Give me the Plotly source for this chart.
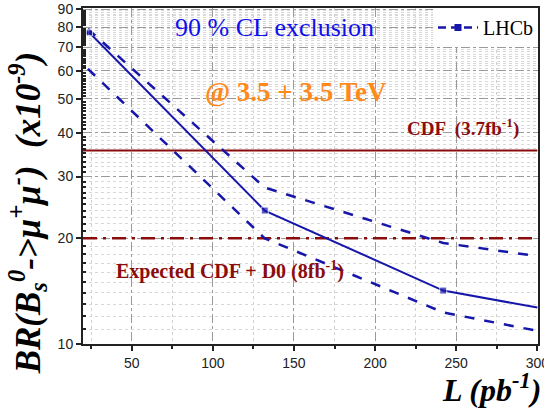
import plotly.graph_objects as go
import math

# ---- data ----
lumi = [21.5, 24, 132, 242, 300]            # pb^-1
br_lhcb = [77, 77, 24.0, 14.2, 12.7]         # x1e-9
lumi_band = [23, 132, 242, 300]
br_upper = [79, 27.9, 19.4, 17.8]
br_lower = [60.8, 20.0, 12.3, 10.9]
cdf_limit = 35.6
cdf_d0_expected = 20.0
x_range = [20, 300]
y_range = [10, 90]
x_ticks = [50, 100, 150, 200, 250, 300]
x_minor = [25, 75, 125, 175, 225, 275]
y_ticks = [10, 20, 30, 40, 50, 60, 70, 80, 90]
y_minor = [v for v in range(11, 90) if v % 10 != 0]

BLUE = "#1616aa"
RED = "#8b0c0c"

fig = go.Figure()

fig.add_trace(go.Scatter(x=x_range, y=[cdf_limit, cdf_limit], mode="lines",
                         line=dict(color=RED, width=2), showlegend=False, hoverinfo="skip"))
fig.add_trace(go.Scatter(x=x_range, y=[cdf_d0_expected, cdf_d0_expected], mode="lines",
                         line=dict(color=RED, width=2.5, dash="14px,6px,3px,6px"),
                         showlegend=False, hoverinfo="skip"))
fig.add_trace(go.Scatter(x=lumi_band, y=br_upper, mode="lines",
                         line=dict(color=BLUE, width=2.5, dash="10px,10px"), showlegend=False))
fig.add_trace(go.Scatter(x=lumi_band, y=br_lower, mode="lines",
                         line=dict(color=BLUE, width=2.5, dash="10px,10px"), showlegend=False))
fig.add_trace(go.Scatter(x=lumi, y=br_lhcb, mode="lines+markers",
                         line=dict(color=BLUE, width=2),
                         marker=dict(symbol="square", color=BLUE, size=[6, 6, 7, 7, 0]),
                         showlegend=False))
fig.add_trace(go.Scatter(x=[None], y=[None], mode="lines+markers", name="LHCb",
                         line=dict(color=BLUE, width=2.5, dash="8px,5px"),
                         marker=dict(symbol="square", color=BLUE, size=7)))

tickfont = dict(family="Liberation Sans, Arial", size=14, color="#222222")

fig.update_xaxes(type="linear", range=[x_range[0], x_range[1] + 0.4], tickmode="array",
                 tickvals=x_ticks, ticklabeloverflow="allow", automargin=False,
                 ticks="outside", ticklen=5, tickwidth=1.5, tickcolor="#222",
                 showline=True, linecolor="#222", linewidth=2, mirror=True,
                 showgrid=True, gridcolor="#9a9a9a", gridwidth=1, griddash="dashdot",
                 tickfont=tickfont, zeroline=False,
                 minor=dict(tickmode="array", tickvals=x_minor, ticks="outside", ticklen=3,
                            tickcolor="#222", showgrid=True, gridcolor="#d0d0d0",
                            griddash="dot", gridwidth=1))
fig.update_yaxes(type="log",
                 range=[math.log10(y_range[0]), math.log10(y_range[1]) + 0.003],
                 tickmode="array", tickvals=y_ticks, ticktext=[str(v) for v in y_ticks],
                 ticklabeloverflow="allow", automargin=False,
                 ticks="outside", ticklen=5, tickwidth=1.5, tickcolor="#222",
                 showline=True, linecolor="#222", linewidth=2, mirror=True,
                 showgrid=True, gridcolor="#9a9a9a", gridwidth=1, griddash="dashdot",
                 tickfont=tickfont, zeroline=False,
                 minor=dict(tickmode="array", tickvals=y_minor, ticks="inside", ticklen=3,
                            tickcolor="#222", showgrid=True, gridcolor="#d8d8d8",
                            griddash="dot", gridwidth=1))

serif = "Liberation Serif, Times New Roman, serif"
ann = [
    dict(x=0.42, y=0.943, text="90 % CL exclusion",
         font=dict(family=serif, size=26, color="#1010ee")),
    dict(x=0.468, y=0.75, text="<b>@ 3.5 + 3.5 TeV</b>",
         font=dict(family=serif, size=27, color="#ff8a1a")),
    dict(x=0.835, y=0.643, text="<b>CDF  (3.7fb<sup>-1</sup>)</b>",
         font=dict(family=serif, size=19, color=RED)),
    dict(x=0.323, y=0.22, text="<b>Expected CDF + D0 (8fb<sup>-1</sup>)</b>",
         font=dict(family=serif, size=20, color=RED)),
    dict(x=1.012, y=-0.13, xanchor="right", text="<b><i>L (pb<sup>-1</sup>)</i></b>",
         font=dict(family=serif, size=32, color="black")),
    dict(x=-0.12, y=0.39, textangle=-90,
         text="<b><i>BR(B<sub>s</sub><sup>0</sup>->μ<sup>+</sup>μ<sup>-</sup>)  (x10<sup>-9</sup>)</i></b>",
         font=dict(family=serif, size=35, color="black")),
]
for a in ann:
    a.setdefault("xanchor", "center")
    a.update(xref="paper", yref="paper", showarrow=False, yanchor="middle")
    fig.add_annotation(**a)

fig.update_layout(
    width=544, height=409,
    margin=dict(l=83, r=6, t=8, b=65),
    paper_bgcolor="white", plot_bgcolor="white",
    legend=dict(x=1, y=1, xanchor="right", yanchor="top", bgcolor="white",
                borderwidth=0, font=dict(family=serif, size=20, color="black"),
                itemwidth=40),
)

fig.write_html("out.html", config={"displayModeBar": False},
               post_script="document.body.style.margin='0';document.body.style.padding='0';")
